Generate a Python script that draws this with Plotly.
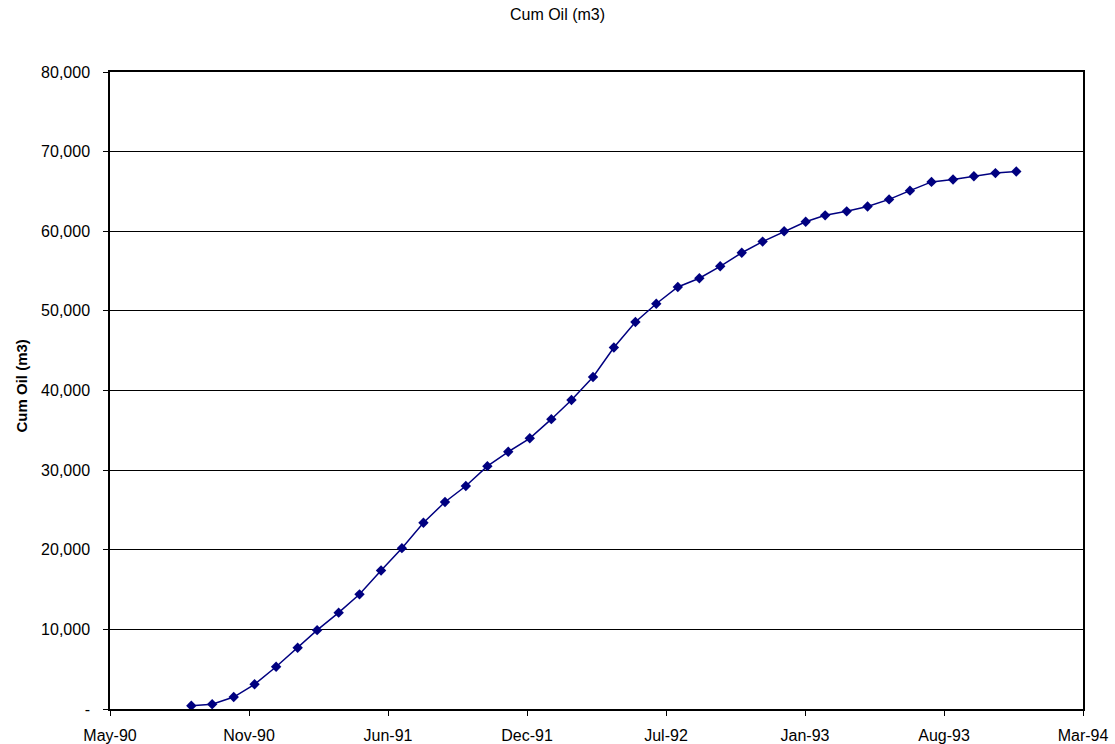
import plotly.graph_objects as go
import pandas as pd

dates = pd.date_range("1990-09-01", "1993-12-01", freq="MS").strftime("%Y-%m-%d").tolist()
cum_oil = [400, 600, 1500, 3100, 5300, 7700, 9900, 12100, 14400, 17400,
           20200, 23400, 26000, 28000, 30500, 32300, 34000, 36400, 38800, 41700,
           45400, 48600, 50900, 53000, 54100, 55600, 57300, 58700, 60000, 61200,
           62000, 62500, 63100, 64000, 65100, 66200, 66500, 66900, 67300, 67500]

x_tick_vals = ["1990-05-07", "1990-11-23", "1991-06-11", "1991-12-28",
               "1992-07-15", "1993-01-31", "1993-08-19", "1994-03-07"]
x_tick_text = ["May-90", "Nov-90", "Jun-91", "Dec-91", "Jul-92", "Jan-93", "Aug-93", "Mar-94"]
y_tick_vals = [0, 10000, 20000, 30000, 40000, 50000, 60000, 70000, 80000]
y_tick_text = ["-", "10,000", "20,000", "30,000", "40,000", "50,000", "60,000", "70,000", "80,000"]

W, H = 1115, 744
L, R, T, B = 110, 32, 72, 35

fig = go.Figure()
fig.add_trace(go.Scatter(
    x=dates, y=cum_oil, mode="lines+markers",
    line=dict(color="#000080", width=1.5),
    marker=dict(symbol="diamond", size=8, color="#000080"),
    showlegend=False,
))

fig.update_layout(
    width=W, height=H,
    margin=dict(l=L, r=R, t=T, b=B, autoexpand=False),
    paper_bgcolor="white", plot_bgcolor="white",
    font=dict(family="Liberation Sans, Arial, sans-serif", size=16, color="black"),
    title=dict(text="Cum Oil (m3)", x=0.5, xanchor="center", xref="container",
               y=1 - 14 / H, yanchor="middle", yref="container",
               font=dict(size=16)),
)
fig.add_annotation(
    text="<b>Cum Oil (m3)</b>", textangle=-90,
    xref="paper", yref="paper", x=0, y=0.5, xshift=21 - L, yshift=4,
    xanchor="center", yanchor="middle", showarrow=False,
    font=dict(size=15, color="black"),
)
fig.update_xaxes(
    type="date", range=["1990-05-07", "1994-03-07"],
    tickmode="array", tickvals=x_tick_vals, ticktext=x_tick_text,
    ticks="outside", ticklen=5, tickcolor="black", ticklabelstandoff=6,
    showgrid=False, showline=True, linecolor="black", linewidth=1.5, mirror=True,
    zeroline=False, automargin=False,
)
fig.update_yaxes(
    range=[0, 80000],
    tickmode="array", tickvals=y_tick_vals, ticktext=y_tick_text,
    ticks="outside", ticklen=5, tickcolor="black", ticklabelstandoff=10,
    showgrid=True, gridcolor="black", gridwidth=1,
    showline=True, linecolor="black", linewidth=1.5, mirror=True,
    zeroline=False, automargin=False,
)

fig.write_html(
    "out.html",
    config={"displayModeBar": False},
    post_script="document.body.style.margin='0';document.body.style.overflow='hidden';",
)
